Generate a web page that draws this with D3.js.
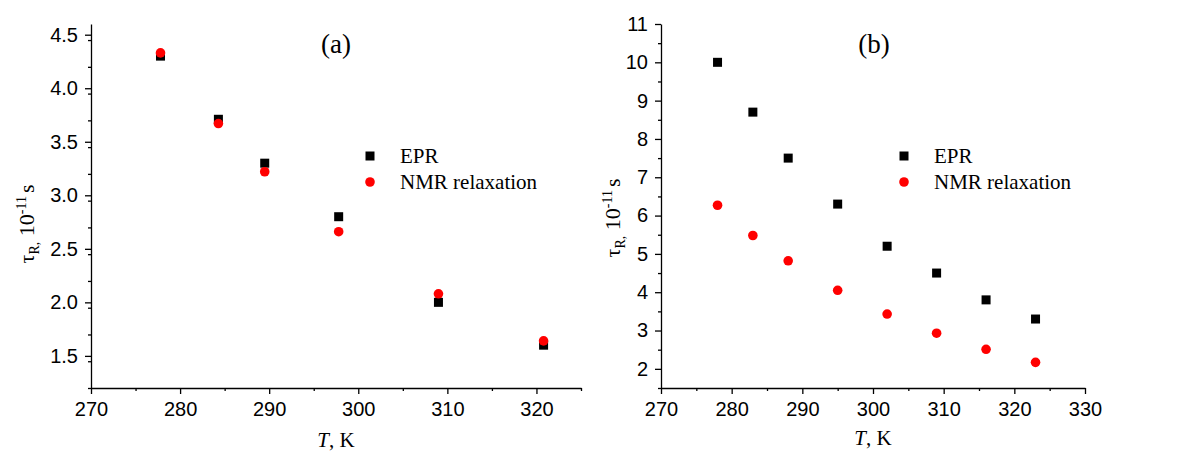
<!DOCTYPE html>
<html>
<head>
<meta charset="utf-8">
<script src="https://cdn.jsdelivr.net/npm/d3@7"></script>
<style>
  body { margin: 0; background: #fff; }
  svg { display: block; }
  .tick text { font-family: "Liberation Sans", Arial, sans-serif; }
</style>
</head>
<body>
<svg id="chart" width="1184" height="451"></svg>
<script>
// panel (a)
const tempA = [277.8, 284.3, 289.5, 297.8, 309.0, 320.8];
const eprA = [4.30, 3.71, 3.30, 2.80, 2.00, 1.60];
const nmrA = [4.33, 3.67, 3.22, 2.66, 2.08, 1.64];
const xTicksA = [270, 280, 290, 300, 310, 320];
const yTicksA = [1.5, 2.0, 2.5, 3.0, 3.5, 4.0, 4.5];

// panel (b)
const tempB = [278, 283, 288, 295, 302, 309, 316, 323];
const eprB = [10.0, 8.7, 7.5, 6.3, 5.2, 4.5, 3.8, 3.3];
const nmrB = [6.27, 5.48, 4.82, 4.05, 3.43, 2.93, 2.51, 2.17];
const xTicksB = [270, 280, 290, 300, 310, 320, 330];
const yTicksB = [2, 3, 4, 5, 6, 7, 8, 9, 10, 11];

const seriesNames = ["EPR", "NMR relaxation"];

const svg = d3.select("#chart");
const serif = "'Liberation Serif', 'Times New Roman', serif";

function drawPanel(p) {
    const x = d3.scaleLinear().domain(p.xDomain).range([p.left, p.right]);
    const y = d3.scaleLinear().domain(p.yDomain).range([p.bottom, p.top]);
    const g = svg.append("g");

    // minor ticks first
    const xMinor = d3.range(p.xDomain[0] + 5, p.xDomain[1] + 0.01, 10);
    const yMinor = d3.range(p.yDomain[0], p.yDomain[1] + 0.001, p.yMinorStep)
        .filter(v => !p.yTicks.some(t => Math.abs(t - v) < 1e-6));

    g.append("g").attr("transform", `translate(0,${p.bottom})`)
        .call(d3.axisBottom(x).tickValues(xMinor).tickSize(3).tickFormat("").tickSizeOuter(0))
        .call(a => a.select(".domain").remove());
    g.append("g").attr("transform", `translate(${p.left},0)`)
        .call(d3.axisLeft(y).tickValues(yMinor).tickSize(3).tickFormat("").tickSizeOuter(0))
        .call(a => a.select(".domain").remove());

    const xa = g.append("g").attr("transform", `translate(0,${p.bottom})`)
        .call(d3.axisBottom(x).tickValues(p.xTicks).tickSize(6).tickPadding(8).tickSizeOuter(0));
    const ya = g.append("g").attr("transform", `translate(${p.left},0)`)
        .call(d3.axisLeft(y).tickValues(p.yTicks).tickSize(6).tickPadding(7).tickSizeOuter(0)
            .tickFormat(p.yFormat));
    [xa, ya].forEach(a => {
        a.selectAll("text").attr("font-size", 20).attr("fill", "#000");
        a.selectAll("line, path").attr("stroke", "#000").attr("stroke-width", 1.3);
    });
    g.selectAll(".tick line").attr("stroke", "#000").attr("stroke-width", 1.3);

    // points: EPR squares below, NMR circles on top
    const s = 9;
    g.selectAll(".epr").data(p.temps).enter().append("rect")
        .attr("x", (d) => x(d) - s / 2)
        .attr("y", (d, i) => y(p.epr[i]) - s / 2)
        .attr("width", s).attr("height", s).attr("fill", "#000");
    g.selectAll(".nmr").data(p.temps).enter().append("circle")
        .attr("cx", d => x(d))
        .attr("cy", (d, i) => y(p.nmr[i]))
        .attr("r", 4.8).attr("fill", "#ff0000");

    // legend
    const lg = g.append("g");
    lg.append("rect").attr("x", p.legX - s / 2).attr("y", p.legY - s / 2)
        .attr("width", s).attr("height", s).attr("fill", "#000");
    lg.append("circle").attr("cx", p.legX).attr("cy", p.legY + 26).attr("r", 4.8).attr("fill", "#ff0000");
    seriesNames.forEach((n, i) => {
        lg.append("text").attr("x", p.legX + 30).attr("y", p.legY + i * 26).attr("dy", "0.35em")
            .attr("font-family", serif).attr("font-size", 21).text(n);
    });

    // panel tag
    g.append("text").attr("x", p.tagX).attr("y", p.top + 29).attr("text-anchor", "middle")
        .attr("font-family", serif).attr("font-size", 27).text(p.tag);

    // x label
    const xl = g.append("text").attr("x", p.xLabelX).attr("y", p.xLabelY).attr("text-anchor", "middle")
        .attr("font-family", serif).attr("font-size", 21);
    xl.append("tspan").attr("font-style", "italic").text("T");
    xl.append("tspan").text(", K");

    // y label
    const yl = g.append("text")
        .attr("transform", `translate(${p.yLabelX},${p.yLabelY}) rotate(-90)`)
        .attr("text-anchor", "middle").attr("font-family", serif).attr("font-size", 22);
    yl.append("tspan").text("τ");
    yl.append("tspan").attr("font-size", 14).attr("dy", 5).text("R");
    yl.append("tspan").attr("font-size", 14).text(",");
    yl.append("tspan").attr("dy", -5).text(" 10");
    yl.append("tspan").attr("font-size", 14).attr("dy", -8).text("-11");
    yl.append("tspan").attr("dy", 8).attr("dx", 3).text("s");
}

drawPanel({
    xDomain: [270, 325], yDomain: [1.2, 4.6], yMinorStep: 0.25,
    left: 91, right: 581, top: 24, bottom: 388,
    xTicks: xTicksA, yTicks: yTicksA, yFormat: d3.format(".1f"),
    temps: tempA, epr: eprA, nmr: nmrA,
    legX: 370, legY: 156, tag: "(a)", tagX: 336,
    xLabelX: 336, xLabelY: 447, yLabelX: 34, yLabelY: 224
});

drawPanel({
    xDomain: [270, 330], yDomain: [1.5, 11], yMinorStep: 0.5,
    left: 661, right: 1085, top: 24, bottom: 388,
    xTicks: xTicksB, yTicks: yTicksB, yFormat: d3.format("d"),
    temps: tempB, epr: eprB, nmr: nmrB,
    legX: 904, legY: 156, tag: "(b)", tagX: 874,
    xLabelX: 873, xLabelY: 445, yLabelX: 620, yLabelY: 218
});
</script>
</body>
</html>
